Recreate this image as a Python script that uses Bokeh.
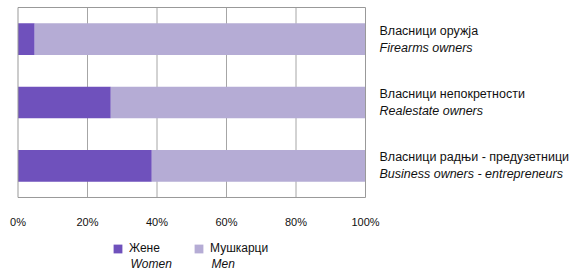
from bokeh.plotting import figure
from bokeh.models import Range1d, Label, Legend, LegendItem, ColumnDataSource
from bokeh.core.properties import value
from bokeh.embed import file_html
from bokeh.resources import INLINE

groups_sr = ["Власници оружја", "Власници непокретности", "Власници радњи - предузетници"]
groups_en = ["Firearms owners", "Realestate owners", "Business owners - entrepreneurs"]
women = [4.8, 26.7, 38.5]
men = [95.2, 73.3, 61.5]
series_sr = ["Жене", "Мушкарци"]
series_en = ["Women", "Men"]
ticks = [0, 20, 40, 60, 80, 100]
tick_labels = ["0%", "20%", "40%", "60%", "80%", "100%"]

C_W = "#6f51bc"
C_M = "#b5acd5"
FONT = "Liberation Sans"
FS_TICK = "11px"
FS_CAT = "12.5px"
FS_LEG = "12px"
TXT = "#111111"

W, H = 580, 270
PX_X = 3.475          # pixels per percent
LEFT = 17.5           # pixel position of 0 %
PX_Y = 63.33          # pixels per category band
TOP = 7.0             # pixel position of top edge of the plot box

n = len(groups_sr)
ys = [i + 0.5 for i in range(n)]
src = ColumnDataSource(dict(y=ys, women=women, men=men))

p = figure(width=W, height=H, min_border=0,
           x_range=Range1d(-LEFT / PX_X, (W - LEFT) / PX_X),
           y_range=Range1d((H - TOP) / PX_Y, -TOP / PX_Y),
           output_backend="svg", toolbar_location=None)
p.axis.visible = False
p.grid.visible = False
p.outline_line_color = None

# grid lines and box
p.segment(x0=ticks[1:-1], y0=[0] * (len(ticks) - 2), x1=ticks[1:-1], y1=[n] * (len(ticks) - 2),
          line_color="#a6a6a6", line_width=1)

rs = p.hbar_stack(["women", "men"], y="y", height=0.5, color=[C_W, C_M], source=src,
                  line_color=None)

p.quad(left=[ticks[0]], right=[ticks[-1]], top=[0], bottom=[n], fill_color=None,
       line_color="#999999", line_width=1)

# tick labels
p.text(x=ticks, y=[n] * len(ticks), text=tick_labels, y_offset=25,
       text_align="center", text_baseline="middle",
       text_font=value(FONT), text_font_size=value(FS_TICK), text_color=TXT)

# category labels on the right
p.text(x=[ticks[-1]] * n, y=ys, text=groups_sr, x_offset=14, y_offset=-8.5,
       text_baseline="middle", text_font=value(FONT), text_font_size=value(FS_CAT),
       text_color=TXT)
p.text(x=[ticks[-1]] * n, y=ys, text=groups_en, x_offset=14, y_offset=8.5,
       text_baseline="middle", text_font=value(FONT), text_font_size=value(FS_CAT),
       text_font_style="italic", text_color=TXT)

# legend
leg_x = [112, 193]
for j in range(2):
    leg = Legend(items=[LegendItem(label=series_sr[j], renderers=[rs[j]])],
                 location=(leg_x[j], 15), orientation="horizontal",
                 glyph_width=11, glyph_height=11, label_standoff=6,
                 padding=0, margin=0, border_line_color=None,
                 background_fill_alpha=0, label_text_font=FONT,
                 label_text_font_size=FS_LEG, label_text_color=TXT,
                 label_height=11)
    p.add_layout(leg)
    p.add_layout(Label(x=leg_x[j] + 18, y=7, x_units="screen", y_units="screen",
                       text=series_en[j], text_font=FONT, text_font_size=FS_LEG,
                       text_font_style="italic", text_baseline="middle",
                       text_color=TXT))

open("out.html", "w").write(file_html(p, INLINE))
